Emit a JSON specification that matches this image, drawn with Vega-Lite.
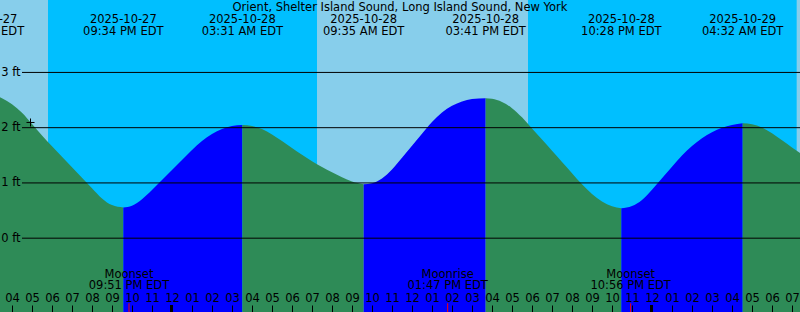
{
  "$schema": "https://vega.github.io/schema/vega-lite/v6.json",
  "width": 800,
  "height": 312,
  "autosize": {"type": "none"},
  "padding": 0,
  "background": "#00BFFF",
  "config": {"view": {"stroke": null}, "font": "DejaVu Sans"},
  "datasets": {
    "sky": [
      {"t": "2025-10-27T12:00:00", "t2": "2025-10-27T17:48:00"},
      {"t": "2025-10-28T07:15:00", "t2": "2025-10-28T17:48:00"},
      {"t": "2025-10-29T07:14:00", "t2": "2025-10-29T12:00:00"}
    ],
    "tide": [
      {"t": "2025-10-27T14:36:00", "h": 2.610, "seg": 0, "phase": "ebb"},
      {"t": "2025-10-27T15:00:00", "h": 2.595, "seg": 0, "phase": "ebb"},
      {"t": "2025-10-27T15:30:00", "h": 2.534, "seg": 0, "phase": "ebb"},
      {"t": "2025-10-27T16:00:00", "h": 2.425, "seg": 0, "phase": "ebb"},
      {"t": "2025-10-27T16:30:00", "h": 2.270, "seg": 0, "phase": "ebb"},
      {"t": "2025-10-27T17:00:00", "h": 2.067, "seg": 0, "phase": "ebb"},
      {"t": "2025-10-27T17:30:00", "h": 1.859, "seg": 0, "phase": "ebb"},
      {"t": "2025-10-27T18:00:00", "h": 1.662, "seg": 0, "phase": "ebb"},
      {"t": "2025-10-27T18:30:00", "h": 1.475, "seg": 0, "phase": "ebb"},
      {"t": "2025-10-27T19:00:00", "h": 1.285, "seg": 0, "phase": "ebb"},
      {"t": "2025-10-27T19:30:00", "h": 1.095, "seg": 0, "phase": "ebb"},
      {"t": "2025-10-27T20:00:00", "h": 0.905, "seg": 0, "phase": "ebb"},
      {"t": "2025-10-27T20:30:00", "h": 0.720, "seg": 0, "phase": "ebb"},
      {"t": "2025-10-27T21:00:00", "h": 0.599, "seg": 0, "phase": "ebb"},
      {"t": "2025-10-27T21:34:00", "h": 0.556, "seg": 0, "phase": "ebb"},
      {"t": "2025-10-27T21:34:00", "h": 0.556, "seg": 1, "phase": "flood"},
      {"t": "2025-10-27T22:00:00", "h": 0.588, "seg": 1, "phase": "flood"},
      {"t": "2025-10-27T22:30:00", "h": 0.706, "seg": 1, "phase": "flood"},
      {"t": "2025-10-27T23:00:00", "h": 0.872, "seg": 1, "phase": "flood"},
      {"t": "2025-10-27T23:30:00", "h": 1.053, "seg": 1, "phase": "flood"},
      {"t": "2025-10-28T00:00:00", "h": 1.234, "seg": 1, "phase": "flood"},
      {"t": "2025-10-28T00:30:00", "h": 1.415, "seg": 1, "phase": "flood"},
      {"t": "2025-10-28T01:00:00", "h": 1.596, "seg": 1, "phase": "flood"},
      {"t": "2025-10-28T01:30:00", "h": 1.759, "seg": 1, "phase": "flood"},
      {"t": "2025-10-28T02:00:00", "h": 1.884, "seg": 1, "phase": "flood"},
      {"t": "2025-10-28T02:30:00", "h": 1.974, "seg": 1, "phase": "flood"},
      {"t": "2025-10-28T03:00:00", "h": 2.029, "seg": 1, "phase": "flood"},
      {"t": "2025-10-28T03:31:00", "h": 2.049, "seg": 1, "phase": "flood"},
      {"t": "2025-10-28T03:31:00", "h": 2.049, "seg": 2, "phase": "ebb"},
      {"t": "2025-10-28T04:00:00", "h": 2.031, "seg": 2, "phase": "ebb"},
      {"t": "2025-10-28T04:30:00", "h": 1.975, "seg": 2, "phase": "ebb"},
      {"t": "2025-10-28T05:00:00", "h": 1.877, "seg": 2, "phase": "ebb"},
      {"t": "2025-10-28T05:30:00", "h": 1.759, "seg": 2, "phase": "ebb"},
      {"t": "2025-10-28T06:00:00", "h": 1.634, "seg": 2, "phase": "ebb"},
      {"t": "2025-10-28T06:30:00", "h": 1.508, "seg": 2, "phase": "ebb"},
      {"t": "2025-10-28T07:00:00", "h": 1.394, "seg": 2, "phase": "ebb"},
      {"t": "2025-10-28T07:30:00", "h": 1.289, "seg": 2, "phase": "ebb"},
      {"t": "2025-10-28T08:00:00", "h": 1.195, "seg": 2, "phase": "ebb"},
      {"t": "2025-10-28T08:30:00", "h": 1.104, "seg": 2, "phase": "ebb"},
      {"t": "2025-10-28T09:00:00", "h": 1.024, "seg": 2, "phase": "ebb"},
      {"t": "2025-10-28T09:35:00", "h": 0.976, "seg": 2, "phase": "ebb"},
      {"t": "2025-10-28T09:35:00", "h": 0.976, "seg": 3, "phase": "flood"},
      {"t": "2025-10-28T10:00:00", "h": 0.995, "seg": 3, "phase": "flood"},
      {"t": "2025-10-28T10:30:00", "h": 1.082, "seg": 3, "phase": "flood"},
      {"t": "2025-10-28T11:00:00", "h": 1.243, "seg": 3, "phase": "flood"},
      {"t": "2025-10-28T11:30:00", "h": 1.457, "seg": 3, "phase": "flood"},
      {"t": "2025-10-28T12:00:00", "h": 1.674, "seg": 3, "phase": "flood"},
      {"t": "2025-10-28T12:30:00", "h": 1.891, "seg": 3, "phase": "flood"},
      {"t": "2025-10-28T13:00:00", "h": 2.105, "seg": 3, "phase": "flood"},
      {"t": "2025-10-28T13:30:00", "h": 2.275, "seg": 3, "phase": "flood"},
      {"t": "2025-10-28T14:00:00", "h": 2.396, "seg": 3, "phase": "flood"},
      {"t": "2025-10-28T14:30:00", "h": 2.476, "seg": 3, "phase": "flood"},
      {"t": "2025-10-28T15:00:00", "h": 2.519, "seg": 3, "phase": "flood"},
      {"t": "2025-10-28T15:41:00", "h": 2.532, "seg": 3, "phase": "flood"},
      {"t": "2025-10-28T15:41:00", "h": 2.532, "seg": 4, "phase": "ebb"},
      {"t": "2025-10-28T16:00:00", "h": 2.523, "seg": 4, "phase": "ebb"},
      {"t": "2025-10-28T16:30:00", "h": 2.465, "seg": 4, "phase": "ebb"},
      {"t": "2025-10-28T17:00:00", "h": 2.353, "seg": 4, "phase": "ebb"},
      {"t": "2025-10-28T17:30:00", "h": 2.188, "seg": 4, "phase": "ebb"},
      {"t": "2025-10-28T18:00:00", "h": 1.987, "seg": 4, "phase": "ebb"},
      {"t": "2025-10-28T18:30:00", "h": 1.785, "seg": 4, "phase": "ebb"},
      {"t": "2025-10-28T19:00:00", "h": 1.582, "seg": 4, "phase": "ebb"},
      {"t": "2025-10-28T19:30:00", "h": 1.379, "seg": 4, "phase": "ebb"},
      {"t": "2025-10-28T20:00:00", "h": 1.176, "seg": 4, "phase": "ebb"},
      {"t": "2025-10-28T20:30:00", "h": 0.974, "seg": 4, "phase": "ebb"},
      {"t": "2025-10-28T21:00:00", "h": 0.798, "seg": 4, "phase": "ebb"},
      {"t": "2025-10-28T21:30:00", "h": 0.664, "seg": 4, "phase": "ebb"},
      {"t": "2025-10-28T22:00:00", "h": 0.577, "seg": 4, "phase": "ebb"},
      {"t": "2025-10-28T22:28:00", "h": 0.541, "seg": 4, "phase": "ebb"},
      {"t": "2025-10-28T22:28:00", "h": 0.541, "seg": 5, "phase": "flood"},
      {"t": "2025-10-28T23:00:00", "h": 0.581, "seg": 5, "phase": "flood"},
      {"t": "2025-10-28T23:30:00", "h": 0.693, "seg": 5, "phase": "flood"},
      {"t": "2025-10-29T00:00:00", "h": 0.878, "seg": 5, "phase": "flood"},
      {"t": "2025-10-29T00:30:00", "h": 1.086, "seg": 5, "phase": "flood"},
      {"t": "2025-10-29T01:00:00", "h": 1.294, "seg": 5, "phase": "flood"},
      {"t": "2025-10-29T01:30:00", "h": 1.495, "seg": 5, "phase": "flood"},
      {"t": "2025-10-29T02:00:00", "h": 1.667, "seg": 5, "phase": "flood"},
      {"t": "2025-10-29T02:30:00", "h": 1.808, "seg": 5, "phase": "flood"},
      {"t": "2025-10-29T03:00:00", "h": 1.919, "seg": 5, "phase": "flood"},
      {"t": "2025-10-29T03:30:00", "h": 1.998, "seg": 5, "phase": "flood"},
      {"t": "2025-10-29T04:00:00", "h": 2.047, "seg": 5, "phase": "flood"},
      {"t": "2025-10-29T04:32:00", "h": 2.080, "seg": 5, "phase": "flood"},
      {"t": "2025-10-29T04:32:00", "h": 2.080, "seg": 6, "phase": "ebb"},
      {"t": "2025-10-29T05:00:00", "h": 2.062, "seg": 6, "phase": "ebb"},
      {"t": "2025-10-29T05:30:00", "h": 2.004, "seg": 6, "phase": "ebb"},
      {"t": "2025-10-29T06:00:00", "h": 1.900, "seg": 6, "phase": "ebb"},
      {"t": "2025-10-29T06:30:00", "h": 1.772, "seg": 6, "phase": "ebb"},
      {"t": "2025-10-29T07:00:00", "h": 1.643, "seg": 6, "phase": "ebb"},
      {"t": "2025-10-29T07:30:00", "h": 1.517, "seg": 6, "phase": "ebb"},
      {"t": "2025-10-29T08:00:00", "h": 1.390, "seg": 6, "phase": "ebb"},
      {"t": "2025-10-29T09:00:00", "h": 1.137, "seg": 6, "phase": "ebb"}
    ],
    "gridlines": [{"h": 0}, {"h": 1}, {"h": 2}, {"h": 3}],
    "tideevents": [
      {"t": "2025-10-27T14:36:00", "d": "2025-10-27", "tm": "02:36 PM EDT"},
      {"t": "2025-10-27T21:34:00", "d": "2025-10-27", "tm": "09:34 PM EDT"},
      {"t": "2025-10-28T03:31:00", "d": "2025-10-28", "tm": "03:31 AM EDT"},
      {"t": "2025-10-28T09:35:00", "d": "2025-10-28", "tm": "09:35 AM EDT"},
      {"t": "2025-10-28T15:41:00", "d": "2025-10-28", "tm": "03:41 PM EDT"},
      {"t": "2025-10-28T22:28:00", "d": "2025-10-28", "tm": "10:28 PM EDT"},
      {"t": "2025-10-29T04:32:00", "d": "2025-10-29", "tm": "04:32 AM EDT"}
    ],
    "moon": [
      {"t": "2025-10-27T21:51:00", "ev": "Moonset", "tm": "09:51 PM EDT"},
      {"t": "2025-10-28T13:47:00", "ev": "Moonrise", "tm": "01:47 PM EDT"},
      {"t": "2025-10-28T22:56:00", "ev": "Moonset", "tm": "10:56 PM EDT"}
    ],
    "midnight": [{"t": "2025-10-28T00:00:00"}, {"t": "2025-10-29T00:00:00"}],
    "heading": [{"t": "2025-10-28T11:24:00", "text": "Orient, Shelter Island Sound, Long Island Sound, New York"}],
    "marker": [{"t": "2025-10-27T16:55:30", "h": 2.094}]
  },
  "layer": [
    {
      "data": {"name": "sky"},
      "mark": {"type": "rect", "color": "#87CEEB", "clip": true},
      "encoding": {
        "x": {
          "field": "t", "type": "temporal",
          "scale": {"domain": [
            {"year": 2025, "month": 10, "date": 27, "hours": 15, "minutes": 24},
            {"year": 2025, "month": 10, "date": 29, "hours": 7, "minutes": 24}
          ], "nice": false},
          "axis": {
            "orient": "bottom", "format": "%I", "formatType": "time",
            "tickCount": 40,
            "tickSize": -7, "tickColor": "black", "tickWidth": 1,
            "labelPadding": -3.7, "labelBaseline": "alphabetic", "labelAlign": "center",
            "labelFlush": false, "labelOverlap": false, "labelAngle": 0,
            "domain": false, "grid": false, "title": null, "zindex": 1,
            "labelFont": "DejaVu Sans", "labelFontSize": 11.5, "labelColor": "black"
          }
        },
        "x2": {"field": "t2"}
      }
    },
    {
      "data": {"name": "tide"},
      "mark": {"type": "area", "interpolate": "monotone", "clip": true},
      "encoding": {
        "x": {"field": "t", "type": "temporal"},
        "y": {
          "field": "h", "type": "quantitative", "stack": null,
          "scale": {"domain": [-1.336, 4.311], "nice": false, "zero": false},
          "axis": {
            "orient": "left", "offset": -22, "values": [0, 1, 2, 3],
            "labelExpr": "datum.value + ' ft'", "ticks": false, "domain": false, "grid": false,
            "title": null, "labelPadding": 2, "labelBaseline": "middle", "labelFlush": false,
            "zindex": 1, "labelFont": "DejaVu Sans", "labelFontSize": 11.5, "labelColor": "black"
          }
        },
        "y2": {"datum": -1.336},
        "color": {"field": "phase", "type": "nominal", "scale": {"domain": ["ebb", "flood"], "range": ["#2E8B57", "#0000FF"]}, "legend": null},
        "detail": {"field": "seg", "type": "nominal"}
      }
    },
    {
      "data": {"name": "gridlines"},
      "mark": {"type": "rule", "color": "black", "strokeWidth": 1, "clip": true},
      "encoding": {
        "x": {"datum": {"year": 2025, "month": 10, "date": 27, "hours": 16, "minutes": 30}, "type": "temporal"},
        "x2": {"datum": {"year": 2025, "month": 10, "date": 29, "hours": 12, "minutes": 0}},
        "y": {"field": "h", "type": "quantitative"}
      }
    },
    {
      "data": {"name": "moon"},
      "mark": {"type": "rule", "color": "red", "strokeWidth": 1},
      "encoding": {
        "x": {"field": "t", "type": "temporal"},
        "y": {"datum": -1.178, "type": "quantitative"},
        "y2": {"datum": -1.336}
      }
    },
    {
      "data": {"name": "midnight"},
      "mark": {"type": "rule", "color": "black", "strokeWidth": 3, "xOffset": -0.5},
      "encoding": {
        "x": {"field": "t", "type": "temporal"},
        "y": {"datum": -1.209, "type": "quantitative"},
        "y2": {"datum": -1.336}
      }
    },
    {
      "data": {"name": "heading"},
      "mark": {"type": "text", "align": "center", "baseline": "alphabetic", "font": "DejaVu Sans", "fontSize": 11.5, "color": "black"},
      "encoding": {
        "x": {"field": "t", "type": "temporal"},
        "y": {"datum": 4.112, "type": "quantitative"},
        "text": {"field": "text"}
      }
    },
    {
      "data": {"name": "tideevents"},
      "mark": {"type": "text", "align": "center", "baseline": "alphabetic", "font": "DejaVu Sans", "fontSize": 11.5, "color": "black", "clip": true},
      "encoding": {
        "x": {"field": "t", "type": "temporal"},
        "y": {"datum": 3.89, "type": "quantitative"},
        "text": {"field": "d"}
      }
    },
    {
      "data": {"name": "tideevents"},
      "mark": {"type": "text", "align": "center", "baseline": "alphabetic", "font": "DejaVu Sans", "fontSize": 11.5, "color": "black", "clip": true},
      "encoding": {
        "x": {"field": "t", "type": "temporal"},
        "y": {"datum": 3.672, "type": "quantitative"},
        "text": {"field": "tm"}
      }
    },
    {
      "data": {"name": "moon"},
      "mark": {"type": "text", "align": "center", "baseline": "alphabetic", "font": "DejaVu Sans", "fontSize": 11.5, "color": "black"},
      "encoding": {
        "x": {"field": "t", "type": "temporal"},
        "y": {"datum": -0.72, "type": "quantitative"},
        "text": {"field": "ev"}
      }
    },
    {
      "data": {"name": "moon"},
      "mark": {"type": "text", "align": "center", "baseline": "alphabetic", "font": "DejaVu Sans", "fontSize": 11.5, "color": "black"},
      "encoding": {
        "x": {"field": "t", "type": "temporal"},
        "y": {"datum": -0.925, "type": "quantitative"},
        "text": {"field": "tm"}
      }
    },
    {
      "data": {"name": "marker"},
      "mark": {"type": "point", "shape": "M-1,0L1,0M0,-1L0,1", "size": 64, "filled": false, "stroke": "black", "strokeWidth": 1, "opacity": 1},
      "encoding": {
        "x": {"field": "t", "type": "temporal"},
        "y": {"field": "h", "type": "quantitative"}
      }
    }
  ]
}
